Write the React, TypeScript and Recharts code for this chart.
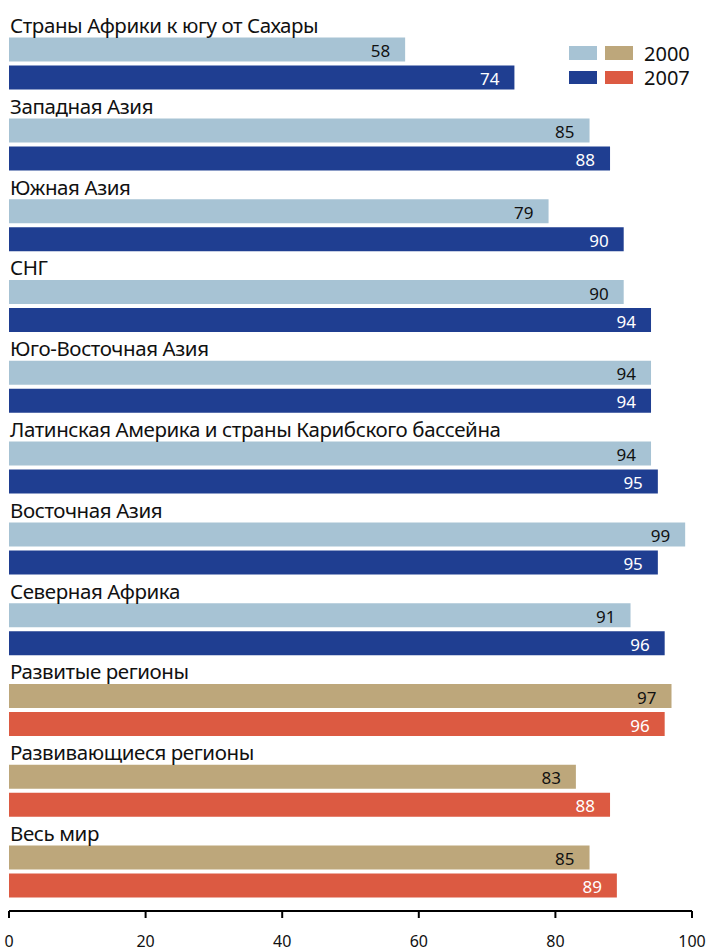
import React from 'react';
import { BarChart, Bar, XAxis, YAxis, Legend, LabelList, Cell } from 'recharts';

const REGIONS = [
  'Страны Африки к югу от Сахары',
  'Западная Азия',
  'Южная Азия',
  'СНГ',
  'Юго-Восточная Азия',
  'Латинская Америка и страны Карибского бассейна',
  'Восточная Азия',
  'Северная Африка',
  'Развитые регионы',
  'Развивающиеся регионы',
  'Весь мир',
];
const VALUES_2000 = [58, 85, 79, 90, 94, 94, 99, 91, 97, 83, 85];
const VALUES_2007 = [74, 88, 90, 94, 94, 95, 95, 96, 96, 88, 89];
// the last three rows are aggregates and get the warm palette
const AGGREGATES = ['Развитые регионы', 'Развивающиеся регионы', 'Весь мир'];
const X_TICKS = [0, 20, 40, 60, 80, 100];

const FONT = '"Noto Sans", sans-serif';
const LIGHT_BLUE = '#a7c3d4';
const DARK_BLUE = '#1f3e91';
const TAN = '#bda77b';
const RED = '#dc5a42';

const data = REGIONS.map((name, i) => ({
  name,
  v2000: VALUES_2000[i],
  v2007: VALUES_2007[i],
  agg: AGGREGATES.includes(name),
}));

const RegionTick = ({ y, payload }: any) => (
  <text
    x={10}
    y={y - 17}
    fontSize={20.5}
    fontFamily={FONT}
    letterSpacing={-0.4}
    fill="#111"
    textAnchor="start"
  >
    {payload.value}
  </text>
);

const valueLabel = (color: string) => (props: any) => {
  const { x, y, width, height, value } = props;
  return (
    <text
      x={x + width - 15}
      y={y + height / 2 + 1}
      fontSize={17}
      fontFamily={FONT}
      fill={color}
      textAnchor="end"
      dominantBaseline="central"
    >
      {value}
    </text>
  );
};

const LegendBox = () => (
  <svg width={136} height={45} style={{ display: 'block', overflow: 'visible' }}>
    <rect x={0} y={0} width={28} height={14} fill={LIGHT_BLUE} />
    <rect x={36} y={0} width={28} height={14} fill={TAN} />
    <rect x={0} y={25} width={28} height={13} fill={DARK_BLUE} />
    <rect x={36} y={25} width={28} height={13} fill={RED} />
    <text x={75} y={15} fontSize={20} fontFamily={FONT} fill="#111">2000</text>
    <text x={75} y={39} fontSize={20} fontFamily={FONT} fill="#111">2007</text>
  </svg>
);

export default function App() {
  return (
    <div style={{ position: 'absolute', left: 0, top: 0, background: '#fff', fontFamily: FONT }}>
      <BarChart
        width={708}
        height={952}
        data={data}
        layout="vertical"
        margin={{ top: 9.6, right: 16, bottom: 0, left: 7 }}
        barSize={24}
        barGap={4}
      >
        <XAxis
          type="number"
          domain={[0, 100]}
          ticks={X_TICKS}
          height={41}
          axisLine={{ stroke: '#000', strokeWidth: 2 }}
          tickLine={{ stroke: '#000', strokeWidth: 2 }}
          tickSize={7}
          tickMargin={18}
          tick={{ fontSize: 16, fill: '#111', fontFamily: FONT }}
        />
        <YAxis
          type="category"
          dataKey="name"
          width={2}
          axisLine={false}
          tickLine={false}
          padding={{ top: 0, bottom: 12.6 }}
          tick={<RegionTick />}
          interval={0}
        />
        <Legend
          layout="horizontal"
          verticalAlign="middle"
          align="center"
          wrapperStyle={{ position: 'absolute', left: 569, top: 46, width: 136, height: 45 }}
          content={() => <LegendBox />}
        />
        {/* empty slot that reserves room for the region name above each pair */}
        <Bar dataKey={() => 0} fill="transparent" isAnimationActive={false} legendType="none" />
        <Bar dataKey="v2000" isAnimationActive={false}>
          {data.map((d, i) => (
            <Cell key={`a-${i}`} fill={d.agg ? TAN : LIGHT_BLUE} />
          ))}
          <LabelList dataKey="v2000" content={valueLabel('#111')} />
        </Bar>
        <Bar dataKey="v2007" isAnimationActive={false}>
          {data.map((d, i) => (
            <Cell key={`b-${i}`} fill={d.agg ? RED : DARK_BLUE} />
          ))}
          <LabelList dataKey="v2007" content={valueLabel('#fff')} />
        </Bar>
      </BarChart>
    </div>
  );
}
